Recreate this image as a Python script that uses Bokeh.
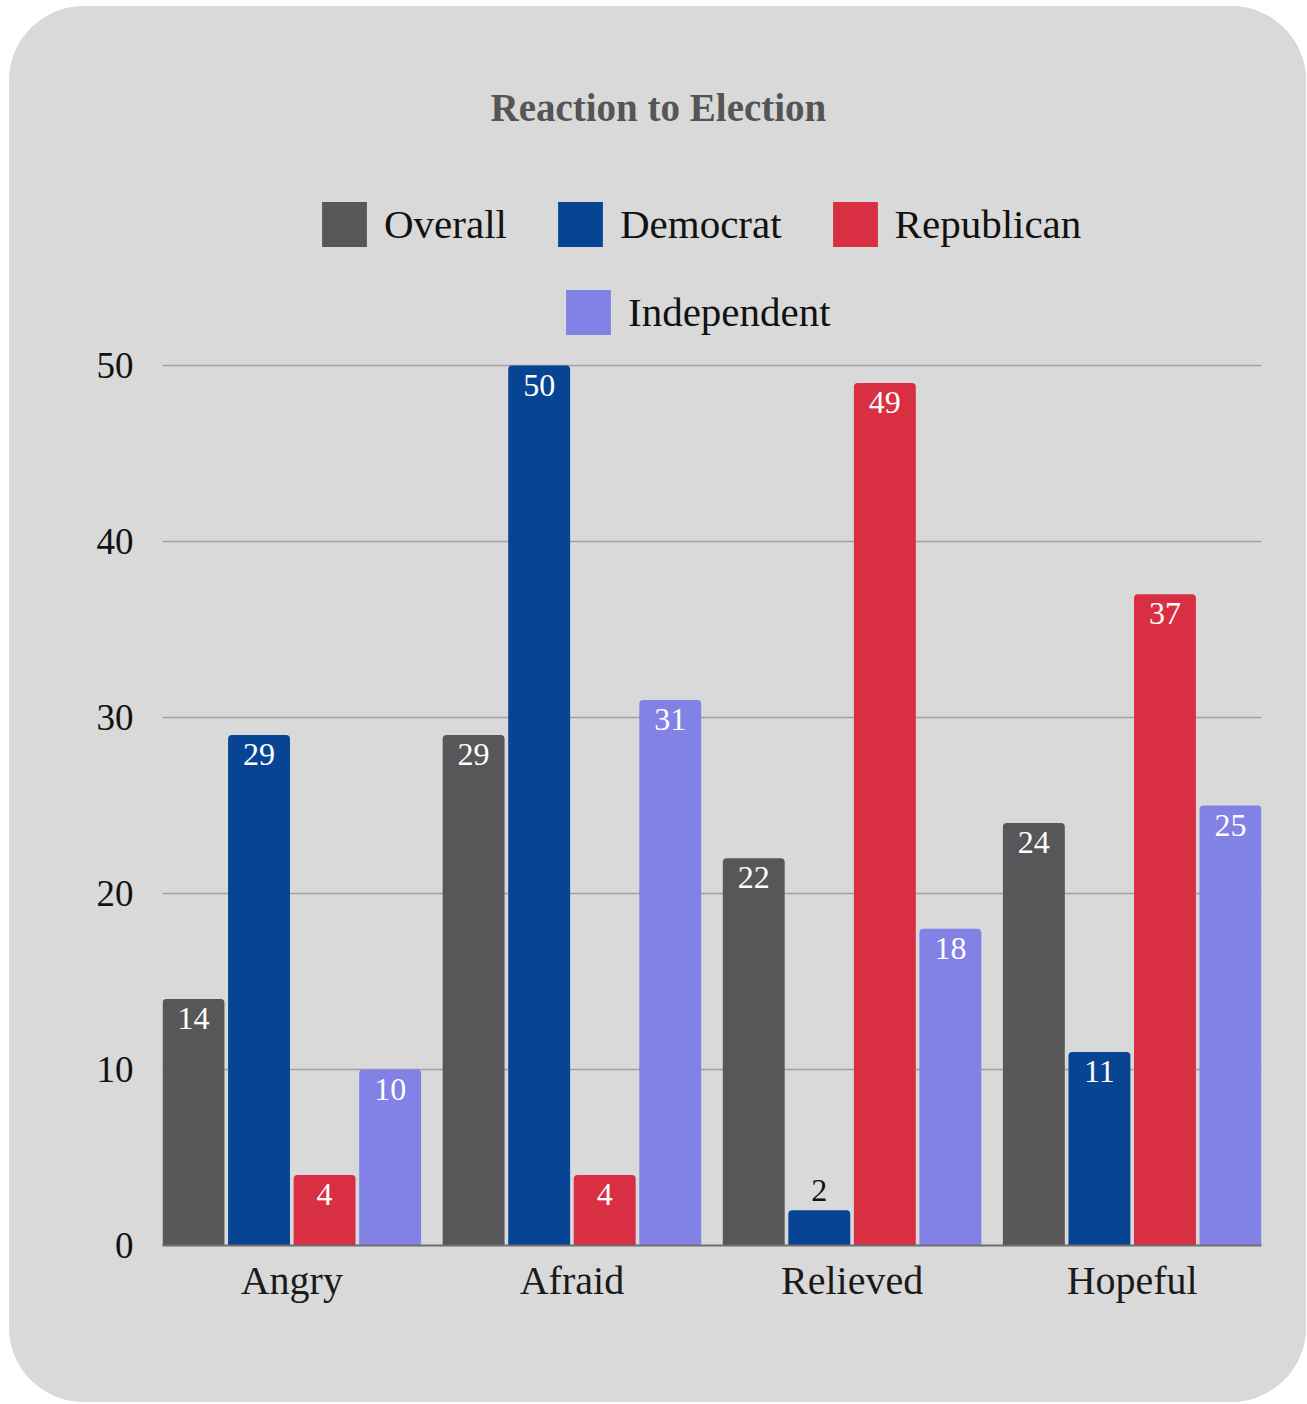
from bokeh.plotting import figure
from bokeh.models import (FactorRange, Range1d, FixedTicker, Legend, LegendItem,
                          ColumnDataSource)
from bokeh.transform import dodge
from bokeh.core.properties import value
from bokeh.embed import file_html
from bokeh.resources import INLINE

# ---- data ----
categories = ["Angry", "Afraid", "Relieved", "Hopeful"]
series = ["Overall", "Democrat", "Republican", "Independent"]
overall = [14, 29, 22, 24]
democrat = [29, 50, 2, 11]
republican = [4, 4, 49, 37]
independent = [10, 31, 18, 25]
y_ticks = [0, 10, 20, 30, 40, 50]
title_text = "Reaction to Election"

# ---- style ----
colors = ["#575759", "#074594", "#D82F42", "#8181E6"]
FONT = "Liberation Serif"
BG = "#d9d9d9"
PITCH = 0.234
BAR_W = 0.221
Y_TOP = 62.216   # headroom inside the frame for the legend rows

p = figure(x_range=FactorRange(*categories, range_padding=-0.0384,
                               range_padding_units="absolute"),
           y_range=Range1d(0, Y_TOP), width=1297, height=1396,
           output_backend="svg", toolbar_location=None, title=title_text,
           min_border_left=153, min_border_right=45,
           min_border_bottom=157, min_border_top=144)

p.background_fill_color = BG
p.border_fill_color = BG
p.outline_line_color = None
p.styles = {"border-radius": "75px", "overflow": "hidden",
            "background-color": BG,
            "margin-left": "9px", "margin-top": "6px"}

p.title.text_font = FONT
p.title.text_font_size = "39px"
p.title.text_font_style = "bold"
p.title.text_color = "#555555"
p.title.align = "left"
p.title.offset = 328
p.title.standoff = 44

all_vals = [overall, democrat, republican, independent]
renderers = []
n = len(series)
for i, (name, vals, col) in enumerate(zip(series, all_vals, colors)):
    off = (i - (n - 1) / 2) * PITCH
    src = ColumnDataSource(dict(cat=categories, top=vals))
    r = p.vbar(x=dodge("cat", off, range=p.x_range), top="top", width=BAR_W,
               source=src, fill_color=col, line_color=None,
               border_radius=(4, 4, 0, 0))
    renderers.append(r)
    ins = dict(cat=[c for c, v in zip(categories, vals) if v >= 3],
               top=[v for v in vals if v >= 3])
    outs = dict(cat=[c for c, v in zip(categories, vals) if v < 3],
                top=[v for v in vals if v < 3])
    ins["label"] = [str(v) for v in ins["top"]]
    outs["label"] = [str(v) for v in outs["top"]]
    if ins["cat"]:
        p.text(x=dodge("cat", off, range=p.x_range), y="top", text="label",
               source=ColumnDataSource(ins), text_align="center",
               text_baseline="top", y_offset=9, text_color="white",
               text_font=value(FONT), text_font_size="32px")
    if outs["cat"]:
        p.text(x=dodge("cat", off, range=p.x_range), y="top", text="label",
               source=ColumnDataSource(outs), text_align="center",
               text_baseline="bottom", y_offset=-9, text_color="#111111",
               text_font=value(FONT), text_font_size="32px")

# ---- axes ----
p.yaxis.ticker = FixedTicker(ticks=y_ticks)
p.yaxis.axis_line_color = None
p.yaxis.major_tick_line_color = None
p.yaxis.minor_tick_line_color = None
p.yaxis.major_label_text_font = FONT
p.yaxis.major_label_text_font_size = "37px"
p.yaxis.major_label_text_color = "#111111"
p.yaxis.major_label_standoff = 23

p.xaxis.axis_line_color = "#6e6e6e"
p.xaxis.axis_line_width = 2
p.xaxis.major_tick_line_color = None
p.xaxis.minor_tick_line_color = None
p.xaxis.major_label_text_font = FONT
p.xaxis.major_label_text_font_size = "40px"
p.xaxis.major_label_text_color = "#1a1a1a"
p.xaxis.major_label_standoff = 6

p.xgrid.grid_line_color = None
p.ygrid.grid_line_color = "#a0a0a0"
p.ygrid.grid_line_width = 1.5

# ---- legend ----
common = dict(orientation="horizontal", glyph_width=56,
              glyph_height=56, label_standoff=12, spacing=45, padding=0,
              margin=0, border_line_color=None, background_fill_alpha=0,
              label_text_font=FONT, label_text_font_size="41px",
              label_height=56, label_text_color="#111111")
leg1 = Legend(items=[LegendItem(label=value(s), renderers=[r])
                     for s, r in zip(series[:3], renderers[:3])],
              location=(154, 993), **common)
leg2 = Legend(items=[LegendItem(label=value(series[3]), renderers=[renderers[3]])],
              location=(398, 905), **common)
p.add_layout(leg1, "center")
p.add_layout(leg2, "center")

open("out.html", "w").write(file_html(p, INLINE))
